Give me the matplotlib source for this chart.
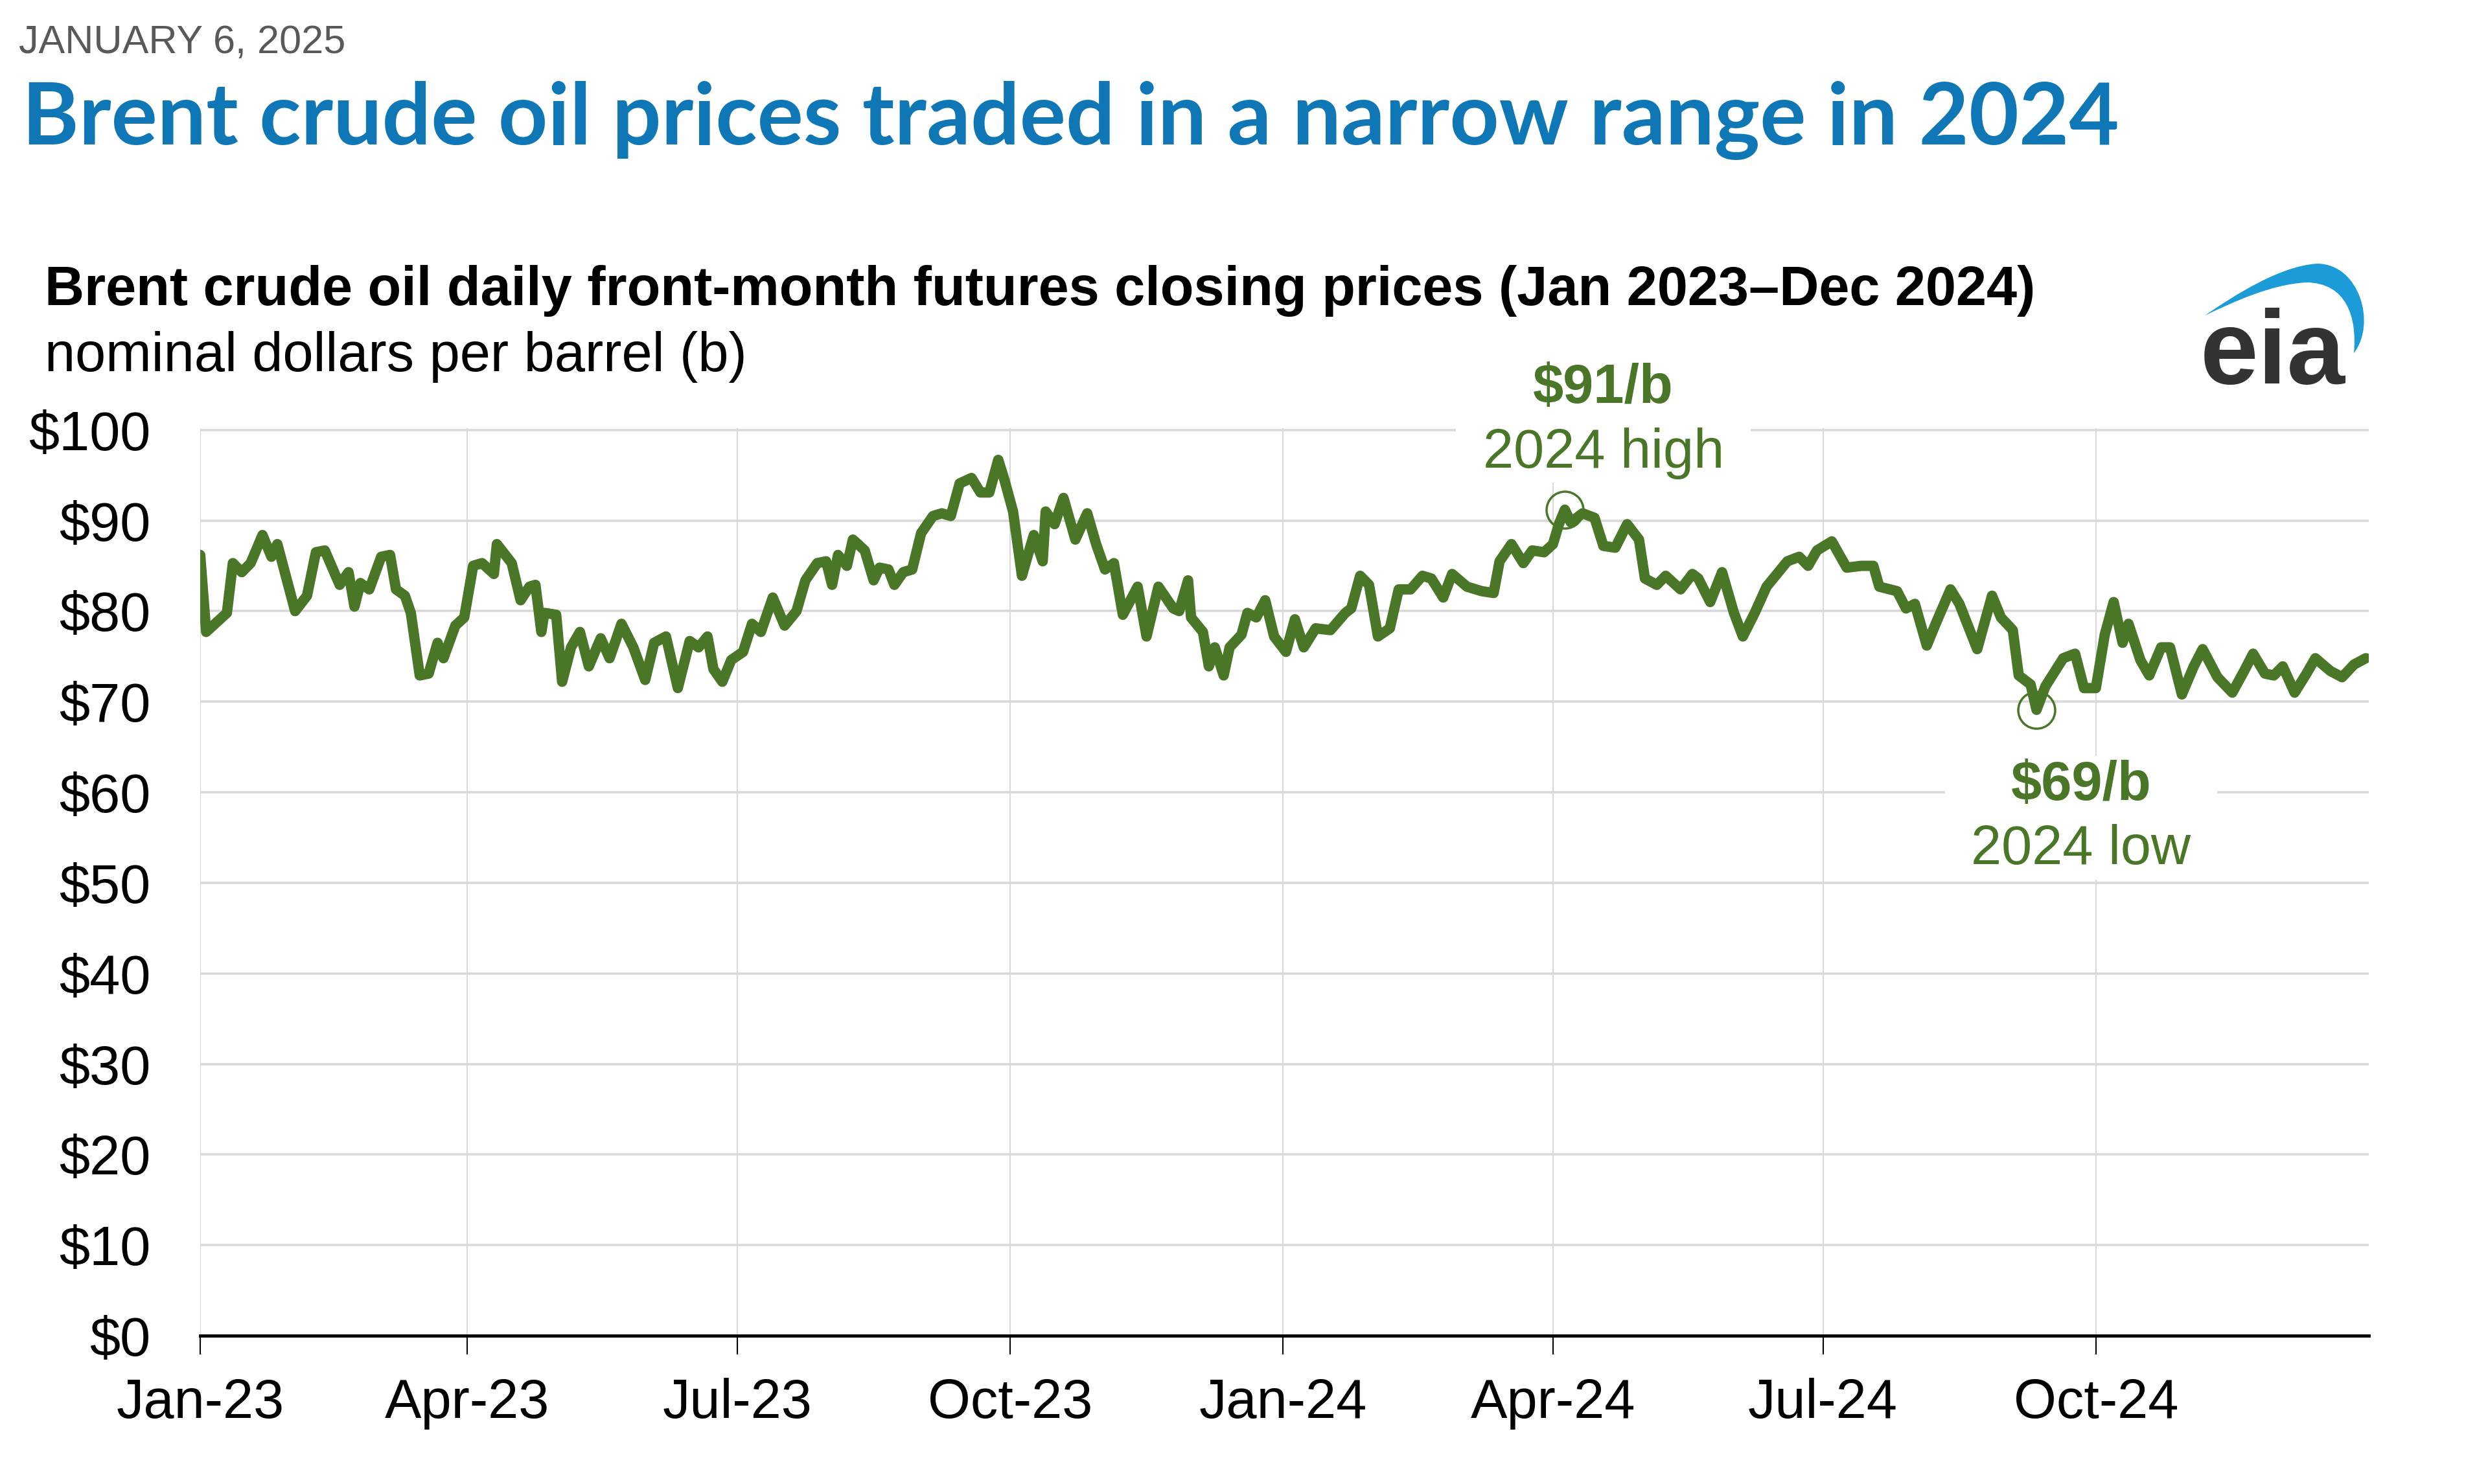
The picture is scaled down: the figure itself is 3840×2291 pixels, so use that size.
import numpy as np
import matplotlib
matplotlib.use('Agg')
import matplotlib.pyplot as plt
from matplotlib.offsetbox import TextArea, VPacker, HPacker, DrawingArea, AnnotationBbox
from matplotlib.path import Path
from matplotlib.patches import PathPatch

plt.rcParams['font.family'] = ['Liberation Sans', 'DejaVu Sans']

# days since 2023-01-01 and Brent closing price ($/b)
days = [0, 2, 9, 11, 14, 17, 21, 24, 26, 32, 36, 39, 42, 47, 50, 52, 54, 57, 61, 64,
        66, 69, 71, 74, 77, 80, 82, 86, 89, 92, 95, 99, 100, 105, 108, 111, 113, 115, 116, 120,
        122, 125, 128, 131, 135, 138, 142, 146, 150, 153, 157, 161, 165, 168, 171, 173, 176, 179, 183, 186,
        189, 193, 197, 201, 204, 208, 211, 213, 215, 218, 220, 224, 227, 229, 232, 234, 237, 240, 243, 247,
        250, 253, 256, 260, 263, 266, 269, 271, 274, 277, 279, 281, 284, 285, 288, 291, 295, 299, 302, 305,
        308, 311, 316, 319, 323, 328, 330, 333, 334, 338, 340, 342, 345, 347, 351, 353, 356, 359, 362, 366,
        369, 372, 376, 381, 386, 388, 391, 394, 397, 401, 404, 408, 412, 415, 419, 422, 427, 432, 436, 438,
        442, 446, 449, 453, 456, 458, 460, 462, 466, 470, 473, 477, 481, 485, 487, 491, 494, 499, 503, 505,
        509, 513, 517, 520, 524, 528, 531, 535, 539, 542, 545, 550, 555, 560, 564, 566, 572, 575, 578, 582,
        585, 590, 593, 599, 604, 607, 611, 613, 617, 619, 622, 628, 632, 635, 639, 642, 645, 648, 650, 654,
        657, 661, 664, 668, 672, 675, 680, 685, 689, 692, 696, 699, 702, 706, 710, 713, 718, 722, 726, 730]
prices = [86.2, 77.7, 79.8, 85.3, 84.3, 85.3, 88.4, 86.0, 87.4, 80.0, 81.7, 86.5, 86.7, 82.9, 84.3, 80.5, 83.1, 82.4, 86.0, 86.2,
          82.4, 81.7, 79.8, 72.9, 73.1, 76.5, 74.8, 78.4, 79.3, 85.0, 85.3, 84.1, 87.4, 85.3, 81.2, 82.7, 82.9, 77.7, 79.8, 79.6,
          72.2, 76.0, 77.7, 73.9, 77.0, 74.8, 78.6, 76.0, 72.4, 76.5, 77.2, 71.5, 76.7, 76.0, 77.2, 73.6, 72.2, 74.6, 75.5, 78.6,
          77.7, 81.5, 78.4, 80.0, 83.4, 85.3, 85.5, 82.9, 86.2, 85.0, 87.9, 86.7, 83.4, 84.8, 84.6, 82.9, 84.3, 84.6, 88.6, 90.5,
          90.8, 90.5, 94.1, 94.7, 93.1, 93.1, 96.7, 94.6, 91.0, 83.9, 86.2, 88.4, 85.5, 91.0, 89.6, 92.5, 87.9, 90.8, 87.4, 84.6,
          85.3, 79.6, 82.7, 77.2, 82.7, 80.3, 80.0, 83.4, 79.3, 77.7, 73.9, 76.0, 72.9, 76.0, 77.4, 79.8, 79.3, 81.2, 77.2, 75.5,
          79.1, 76.0, 78.1, 77.9, 79.8, 80.3, 83.9, 82.9, 77.2, 78.1, 82.4, 82.4, 83.9, 83.6, 81.5, 84.1, 82.7, 82.2, 82.0, 85.5,
          87.4, 85.3, 86.7, 86.5, 87.4, 89.6, 91.2, 89.8, 90.8, 90.3, 87.2, 87.0, 89.6, 87.9, 83.6, 82.9, 83.9, 82.4, 84.1, 83.6,
          81.0, 84.3, 79.8, 77.2, 79.8, 82.7, 83.9, 85.5, 86.0, 85.0, 86.7, 87.7, 84.8, 85.0, 85.0, 82.7, 82.2, 80.3, 80.8, 76.2,
          78.6, 82.4, 80.8, 75.8, 81.7, 79.3, 77.9, 72.9, 71.9, 69.1, 71.7, 74.8, 75.3, 71.5, 71.5, 77.4, 81.0, 76.5, 78.6, 74.6,
          72.9, 76.0, 76.0, 70.8, 73.9, 75.8, 72.7, 71.0, 73.4, 75.3, 73.1, 72.9, 73.9, 71.0, 73.1, 74.8, 73.4, 72.7, 74.1, 74.8]

xtick_dates = ['2023-01-01', '2023-04-01', '2023-07-01', '2023-10-01',
               '2024-01-01', '2024-04-01', '2024-07-01', '2024-10-01']
xtick_labels = ['Jan-23', 'Apr-23', 'Jul-23', 'Oct-23', 'Jan-24', 'Apr-24', 'Jul-24', 'Oct-24']
yticks = list(range(0, 101, 10))
ytick_labels = ['\\$%d' % v for v in yticks]

high_text = ['\\$91/b', '2024 high']
low_text = ['\\$69/b', '2024 low']

GREEN = '#4a7628'
GRID = '#d9d9d9'
W, H = 3840, 2291


def fx(x):
    return x / W


def fy(y):
    return 1 - y / H


fig = plt.figure(figsize=(W / 100, H / 100), dpi=100)
ax = fig.add_axes([fx(309), fy(2062), (3656 - 309) / W, (2062 - 661) / H])

dates = np.datetime64('2023-01-01') + np.array(days).astype('timedelta64[D]')
prices = np.array(prices)
ax.plot(dates, prices, color=GREEN, lw=11.5, solid_joinstyle='round', solid_capstyle='round', zorder=3)

# 2024 high / low circles
in24 = dates >= np.datetime64('2024-01-01')
i_hi = np.where(in24)[0][np.argmax(prices[in24])]
i_lo = np.where(in24)[0][np.argmin(prices[in24])]
for i in (i_hi, i_lo):
    ax.plot(dates[i], prices[i], 'o', ms=41, mfc='none', mec=GREEN, mew=2.5, zorder=4)


def note(lines, xday, yval, side):
    t1 = TextArea(lines[0], textprops=dict(color=GREEN, fontsize=61, fontweight='bold'))
    t2 = TextArea(lines[1], textprops=dict(color=GREEN, fontsize=61))
    col = VPacker(children=[t1, t2], align='center', pad=0, sep=14)
    row = HPacker(children=[DrawingArea(side, 1), col, DrawingArea(side, 1)], align='center', pad=0, sep=0)
    ab = AnnotationBbox(row, (np.datetime64('2023-01-01') + np.timedelta64(xday, 'D'), yval),
                        xycoords='data', frameon=True, pad=0.4, box_alignment=(0.5, 0.5),
                        bboxprops=dict(fc='white', ec='none'), annotation_clip=False, zorder=2.5)
    ax.add_artist(ab)


note(high_text, 473, 101.0, 26)
note(low_text, 634, 57.2, 25)

ax.set_xlim(np.datetime64('2023-01-01'), np.datetime64('2025-01-01'))
ax.set_ylim(0, 100.2)
ax.set_xticks([np.datetime64(d) for d in xtick_dates])
ax.set_xticklabels(xtick_labels)
ax.set_yticks(yticks)
ax.set_yticklabels(ytick_labels)
ax.tick_params(axis='x', length=21, width=1.5, color='black', pad=26, labelsize=61)
ax.tick_params(axis='y', length=0, pad=55, labelsize=61)

ax.set_axisbelow(True)
ax.yaxis.grid(True, color=GRID, lw=2.6)
ax.xaxis.grid(True, color=GRID, lw=1.5)
for s in ('top', 'right', 'left'):
    ax.spines[s].set_visible(False)
ax.spines['bottom'].set_color('black')
ax.spines['bottom'].set_linewidth(3.5)
ax.spines['bottom'].set_zorder(5)

# header
fig.text(fx(29), fy(66), 'JANUARY 6, 2025', fontsize=44, color='#595959', va='center', ha='left',
         family=['Liberation Sans Narrow', 'Liberation Sans'])
fig.text(fx(34), fy(186), 'Brent crude oil prices traded in a narrow range in 2024', fontsize=96,
         fontweight='bold', color='#1077b7', va='center', ha='left', family=['Lato', 'DejaVu Sans'])
fig.text(fx(69), fy(449), 'Brent crude oil daily front-month futures closing prices (Jan 2023\u2013Dec 2024)',
         fontsize=61, fontweight='bold', color='black', va='center', ha='left')
fig.text(fx(69), fy(551), 'nominal dollars per barrel (b)', fontsize=61, color='black', va='center', ha='left')

# eia logo
fig.text(fx(3508), fy(592), 'eia', fontsize=116, fontweight='bold', color='#333333', ha='center', va='baseline')
pts = [(3403, 487), (3450, 455), (3520, 410), (3577, 407),
       (3642, 408), (3668, 500), (3633, 545),
       (3638, 490), (3622, 437), (3560, 436),
       (3505, 439), (3450, 465), (3403, 487)]
codes = [Path.MOVETO] + [Path.CURVE4] * 12
swoosh = Path([(fx(x), fy(y)) for x, y in pts], codes)
fig.patches.append(PathPatch(swoosh, transform=fig.transFigure, fc='#1b9bd7', ec='none'))

fig.savefig('out.png', dpi=100)
